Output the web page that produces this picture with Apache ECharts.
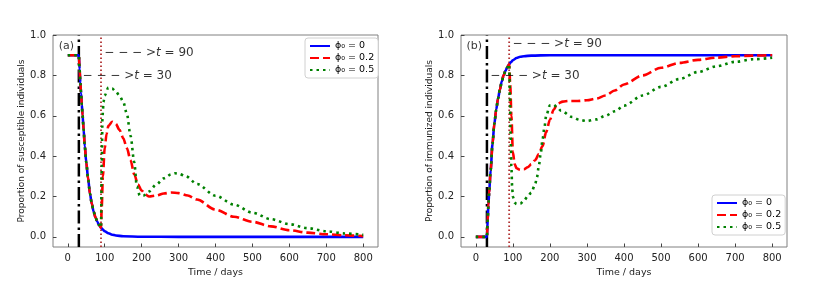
<!DOCTYPE html>
<html><head><meta charset="utf-8">
<script src="https://cdn.jsdelivr.net/npm/echarts@6/dist/echarts.min.js"></script>
<style>html,body{margin:0;padding:0;background:#fff}#c{width:830px;height:283px}</style>
</head><body><div id="c"></div>
<script>
// ---------- data ----------
const seriesNames = ['ϕ₀ = 0', 'ϕ₀ = 0.2', 'ϕ₀ = 0.5'];
const eventDays = [30, 90];
const xTicks = [0, 100, 200, 300, 400, 500, 600, 700, 800];
const yTicks = [0, 0.2, 0.4, 0.6, 0.8, 1.0];

// Panel (a): susceptible
const tSusBlue = [0,28,30,32,34,36,38,40,43,46,50,55,60,65,70,75,80,85,90,95,100,110,120,130,150,200,300,400,500,600,700,800];
const sBlue    = [0.9,0.9,0.9,0.83,0.765,0.71,0.655,0.605,0.53,0.45,0.37,0.29,0.215,0.165,0.125,0.097,0.075,0.058,0.046,0.036,0.028,0.018,0.011,0.007,0.003,0.001,0,0,0,0,0,0];
const tSusRed  = [0,28,30,32,34,36,38,40,43,46,50,55,60,65,70,75,80,85,90,92,95,100,105,110,120,130,140,150,160,170,180,190,200,210,220,240,260,280,300,325,350,400,450,500,550,600,650,700,750,800];
const sRed     = [0.9,0.9,0.9,0.83,0.765,0.71,0.655,0.605,0.53,0.45,0.37,0.29,0.215,0.165,0.125,0.097,0.075,0.058,0.046,0.15,0.3,0.44,0.51,0.55,0.57,0.56,0.53,0.49,0.44,0.38,0.31,0.26,0.23,0.21,0.2,0.205,0.215,0.22,0.217,0.205,0.185,0.135,0.1,0.075,0.052,0.033,0.021,0.013,0.008,0.004];
const tSusGreen= [0,28,30,32,34,36,38,40,43,46,50,55,60,65,70,75,80,85,90,92,94,97,100,110,120,130,140,150,160,170,180,187,195,205,220,240,260,280,290,300,320,350,400,450,500,550,600,650,700,750,800];
const sGreen   = [0.9,0.9,0.9,0.83,0.765,0.71,0.655,0.605,0.53,0.45,0.37,0.29,0.215,0.165,0.125,0.097,0.075,0.058,0.046,0.35,0.6,0.67,0.7,0.74,0.735,0.72,0.7,0.67,0.61,0.5,0.37,0.25,0.205,0.205,0.225,0.26,0.29,0.31,0.315,0.313,0.3,0.262,0.204,0.16,0.12,0.088,0.063,0.043,0.028,0.017,0.01];

// Panel (b): immunized
const tImmBlue = [0,28,30,32,34,36,40,45,50,55,60,65,70,75,80,85,90,95,100,110,120,130,150,200,300,400,500,600,700,800];
const iBlue    = [0,0,0,0.08,0.16,0.22,0.33,0.46,0.56,0.63,0.685,0.73,0.77,0.8,0.823,0.84,0.855,0.866,0.875,0.886,0.892,0.895,0.898,0.9,0.9,0.9,0.9,0.9,0.9,0.9];
const tImmRed  = [0,28,30,32,34,36,40,45,50,55,60,65,70,75,80,85,90,93,96,100,105,110,120,130,140,150,160,170,180,190,200,210,220,235,250,275,300,325,350,375,400,450,500,550,600,650,700,750,800];
const iRed     = [0,0,0,0.08,0.16,0.22,0.33,0.46,0.56,0.63,0.685,0.73,0.77,0.8,0.823,0.84,0.855,0.75,0.6,0.42,0.36,0.34,0.332,0.335,0.345,0.36,0.38,0.41,0.45,0.52,0.58,0.63,0.66,0.67,0.673,0.673,0.677,0.685,0.7,0.725,0.755,0.8,0.838,0.862,0.877,0.888,0.895,0.898,0.9];
const tImmGreen= [0,28,30,32,34,36,40,45,50,55,60,65,70,75,80,85,90,92,94,96,98,100,105,110,120,130,140,150,160,165,170,175,180,185,190,200,210,220,230,260,280,300,325,350,375,400,450,500,550,600,650,700,750,800];
const iGreen   = [0,0,0,0.08,0.16,0.22,0.33,0.46,0.56,0.63,0.685,0.73,0.77,0.8,0.823,0.84,0.855,0.7,0.5,0.35,0.25,0.2,0.17,0.163,0.165,0.18,0.2,0.22,0.26,0.295,0.35,0.41,0.48,0.54,0.6,0.652,0.655,0.64,0.625,0.594,0.58,0.574,0.582,0.6,0.622,0.65,0.7,0.743,0.782,0.817,0.845,0.867,0.88,0.887];

// annotation anchors (day, value) and texts
const annoA = [[99, 0.912, '90'], [40, 0.80, '30']];
const annoB = [[99, 0.954, '90'], [39, 0.80, '30']];
const panelTags = [['(a)', -4, 0.945], ['(b)', -4, 0.945]];

// ---------- chart ----------
const FONT = 'DejaVu Sans';
const X_MIN = -40, X_MAX = 840, Y_MIN = -0.05, Y_MAX = 1.0;
const zip = (t, v) => t.map((x, i) => [x, v[i]]);
const colors = ['#0000ff', '#ff0000', '#008000'];
const lineTypes = ['solid', [9, 4], [2.5, 4]];

function curve(name, idx, t, v, k) {
  return {
    type: 'line', name: name, xAxisIndex: k, yAxisIndex: k,
    data: zip(t, v), showSymbol: false, symbol: 'none',
    smooth: 0.3, smoothMonotone: 'x', z: 3 + idx,
    lineStyle: { color: colors[idx], width: 2.6, type: lineTypes[idx], cap: 'butt' },
    itemStyle: { color: colors[idx] }
  };
}
function vline(day, k, color, width, type) {
  return {
    type: 'line', xAxisIndex: k, yAxisIndex: k, silent: true,
    data: [[day, Y_MIN], [day, Y_MAX]], symbol: 'none', z: 2,
    lineStyle: { color: color, width: width, type: type }
  };
}
function anno(list, k) {
  return {
    type: 'scatter', xAxisIndex: k, yAxisIndex: k, silent: true, symbolSize: 0, z: 10,
    data: list.map(a => ({ value: [a[0], a[1]], txt: a[2] })),
    label: {
      show: true, position: 'right', distance: 0,
      fontFamily: FONT, fontSize: 12, color: '#000',
      formatter: p => '− − − >{it|t} = ' + p.data.txt,
      rich: { it: { fontStyle: 'italic', fontFamily: FONT, fontSize: 12 } }
    }
  };
}
function tag(item, k) {
  return {
    type: 'scatter', xAxisIndex: k, yAxisIndex: k, silent: true, symbolSize: 0, z: 10,
    data: [[item[1], item[2]]],
    label: { show: true, position: 'inside', formatter: item[0], fontFamily: FONT, fontSize: 11, color: '#000' }
  };
}

const grids = [
  { left: 53, top: 35, width: 325, height: 212 },
  { left: 461, top: 35, width: 326, height: 212 }
];
function xAxis(k) {
  return {
    type: 'value', gridIndex: k, min: X_MIN, max: X_MAX,
    name: 'Time / days', nameLocation: 'middle', nameGap: 15,
    nameTextStyle: { fontFamily: FONT, fontSize: 9.5, color: '#222' },
    axisLine: { show: false, onZero: false }, splitLine: { show: false },
    axisTick: { show: true, inside: true, length: 3.5, customValues: xTicks, lineStyle: { color: '#444' } },
    axisLabel: { customValues: xTicks, fontFamily: FONT, fontSize: 10, color: '#222', margin: 6 }
  };
}
function yAxis(k, name) {
  return {
    type: 'value', gridIndex: k, min: Y_MIN, max: Y_MAX,
    name: name, nameLocation: 'middle', nameGap: 20,
    nameTextStyle: { fontFamily: FONT, fontSize: 9, color: '#222' },
    axisLine: { show: false, onZero: false }, splitLine: { show: false },
    axisTick: { show: true, inside: true, length: 3.5, customValues: yTicks, lineStyle: { color: '#444' } },
    axisLabel: { customValues: yTicks, fontFamily: FONT, fontSize: 10, color: '#222', margin: 7,
      formatter: v => v.toFixed(1) }
  };
}
function legend(left, top) {
  return {
    data: seriesNames, orient: 'vertical', left: left, top: top,
    itemWidth: 20, itemHeight: 10, itemGap: 2, padding: [3, 4],
    borderColor: '#d0d0d0', borderWidth: 1, borderRadius: 3, backgroundColor: '#fff',
    itemStyle: { color: 'rgba(0,0,0,0)', borderColor: 'rgba(0,0,0,0)', borderWidth: 0, opacity: 0 },
    textStyle: { fontFamily: FONT, fontSize: 9.5, color: '#000' },
    selectedMode: false
  };
}

const option = {
  animation: false,
  backgroundColor: '#fff',
  grid: grids.map(g => Object.assign({ show: true, borderColor: '#808080', borderWidth: 1, backgroundColor: 'transparent' }, g)),
  xAxis: [xAxis(0), xAxis(1)],
  yAxis: [yAxis(0, 'Proportion of susceptible individuals'), yAxis(1, 'Proportion of immunized individuals')],
  legend: [legend(305, 38), legend(712, 195)],
  series: [
    vline(eventDays[0], 0, '#000', 2.5, [13, 4, 2.5, 4]),
    vline(eventDays[1], 0, '#b03030', 1.8, [1.6, 2.4]),
    curve(seriesNames[0], 0, tSusBlue, sBlue, 0),
    curve(seriesNames[1], 1, tSusRed, sRed, 0),
    curve(seriesNames[2], 2, tSusGreen, sGreen, 0),
    anno(annoA, 0), tag(panelTags[0], 0),
    vline(eventDays[0], 1, '#000', 2.5, [13, 4, 2.5, 4]),
    vline(eventDays[1], 1, '#b03030', 1.8, [1.6, 2.4]),
    curve(seriesNames[0], 0, tImmBlue, iBlue, 1),
    curve(seriesNames[1], 1, tImmRed, iRed, 1),
    curve(seriesNames[2], 2, tImmGreen, iGreen, 1),
    anno(annoB, 1), tag(panelTags[1], 1)
  ]
};
const chart = echarts.init(document.getElementById('c'), null, { renderer: 'canvas' });
chart.setOption(option);
</script></body></html>
